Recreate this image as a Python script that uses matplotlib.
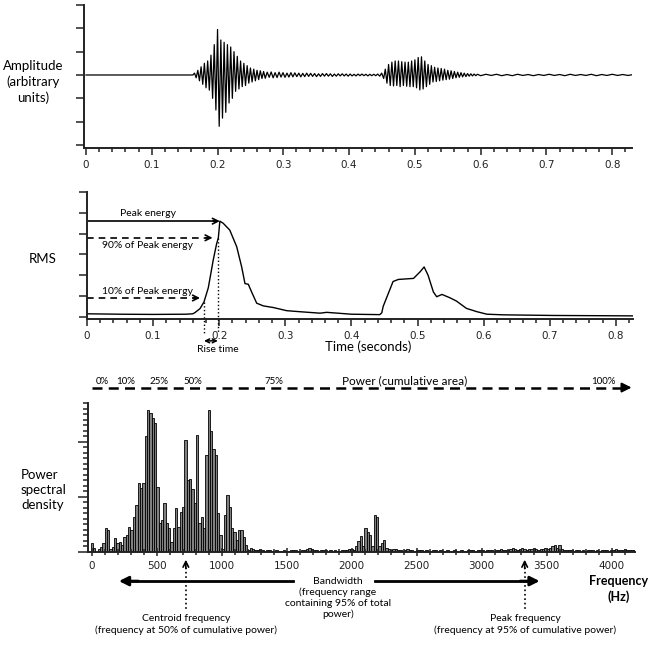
import numpy as np
import matplotlib
matplotlib.use("Agg")
import matplotlib.pyplot as plt
from matplotlib.ticker import MultipleLocator, FuncFormatter

plt.rcParams['font.family'] = ['Lato', 'DejaVu Sans']

# ---- waveform (amplitude, arbitrary units), read stroke by stroke ----
quiet_t = [0.0, 0.1625]
quiet_y = [0.0, 0.0]
burst1_t0, burst1_dt = 0.165, 0.0025
burst1_y = [0.08, -0.12, 0.2, -0.25, 0.35, -0.4, 0.5, -0.55, 0.6, -0.65,
            0.85, -1.0, 1.3, -1.5, 1.95, -2.2, 1.5, -1.85, 1.4, -1.6,
            1.3, -1.2, 1.2, -1.0, 1.0, -0.7, 0.8, -0.6, 0.6, -0.5,
            0.5, -0.45, 0.4, -0.35, 0.3, -0.3, 0.25, -0.25, 0.2, -0.2,
            0.18, -0.15, 0.15]
noise_t0, noise_dt = 0.2725, 0.003
noise_y = [-0.14, 0.12, -0.1, 0.13, -0.12, 0.1, -0.11, 0.12, -0.09, 0.1,
           -0.1, 0.08, -0.09, 0.1, -0.08, 0.09, -0.07, 0.08, -0.08, 0.07,
           -0.07, 0.08, -0.06, 0.07, -0.06, 0.06, -0.07, 0.05, -0.06, 0.06,
           -0.05, 0.06, -0.05, 0.05, -0.06, 0.04, -0.05, 0.05, -0.04, 0.05,
           -0.04, 0.04, -0.05, 0.04, -0.04, 0.03, -0.04, 0.04, -0.03, 0.04,
           -0.03, 0.03, -0.04, 0.03, -0.03, 0.03, -0.03, 0.04, -0.05, 0.08]
burst2_t0, burst2_dt = 0.4525, 0.0025
burst2_y = [-0.15, 0.25, -0.35, 0.45, -0.45, 0.55, -0.47, 0.6, -0.45, 0.6,
            -0.5, 0.57, -0.45, 0.55, -0.48, 0.55, -0.5, 0.6, -0.5, 0.65,
            -0.55, 0.75, -0.64, 0.78, -0.6, 0.6, -0.5, 0.45, -0.4, 0.4,
            -0.3, 0.33, -0.28, 0.3, -0.25, 0.28, -0.22, 0.25, -0.2, 0.2,
            -0.18, 0.18, -0.15, 0.15, -0.12, 0.12, -0.1, 0.1, -0.08, 0.08,
            -0.07, 0.06, -0.05, 0.05, -0.04, 0.04, -0.03, 0.03]
tail_t0, tail_dt = 0.6, 0.008
tail_y = [-0.03, 0.03, -0.02, 0.03, -0.03, 0.02, -0.03, 0.03, -0.02, 0.02,
          -0.03, 0.02, -0.02, 0.03, -0.02, 0.02, -0.03, 0.03, -0.02, 0.02,
          -0.02, 0.03, -0.03, 0.02, -0.02, 0.03, -0.02, 0.02, -0.02, 0.02]

# ---- RMS envelope ----
rms_t = [0, 0.05, 0.1, 0.15, 0.16, 0.163, 0.171, 0.177, 0.1835, 0.191,
         0.196, 0.1987, 0.201, 0.206, 0.216, 0.2265, 0.234, 0.239, 0.244, 0.249,
         0.2567, 0.2667, 0.282, 0.302, 0.322, 0.3525, 0.3626, 0.4, 0.443, 0.446,
         0.448, 0.456, 0.463, 0.471, 0.494, 0.504, 0.51, 0.516, 0.524, 0.529,
         0.537, 0.549, 0.559, 0.574, 0.59, 0.605, 0.63, 0.705, 0.826]
rms_v = [0.15, 0.13, 0.12, 0.13, 0.15, 0.2, 0.4, 0.72, 1.4, 2.74,
         3.5, 3.8, 4.6, 4.5, 4.17, 3.37, 2.4, 1.6, 1.57, 1.2,
         0.66, 0.53, 0.45, 0.3, 0.25, 0.18, 0.22, 0.13, 0.11, 0.2,
         0.5, 1.14, 1.7, 1.8, 1.85, 2.17, 2.4, 2.0, 1.2, 0.97,
         1.08, 0.92, 0.76, 0.41, 0.25, 0.13, 0.1, 0.07, 0.05]
peak_energy = 4.6
energy_90 = 3.8
energy_10 = 0.72
t_10 = 0.177
t_90 = 0.198
t_peak = 0.201

# ---- power spectral density, 18 Hz bins ----
bin_hz = 18
psd = [0.16, 0.07, 0.0, 0.05, 0.09, 0.16, 0.43, 0.4, 0.05, 0.09,
       0.25, 0.16, 0.18, 0.12, 0.27, 0.3, 0.45, 0.4, 0.64, 0.85,
       1.25, 1.16, 1.25, 2.1, 2.58, 2.52, 2.43, 2.33, 1.18, 0.52,
       0.58, 0.88, 0.52, 0.43, 0.18, 0.43, 0.79, 0.45, 0.73, 0.82,
       2.03, 1.3, 1.33, 1.15, 0.88, 2.12, 0.52, 0.64, 0.43, 1.76,
       2.58, 2.2, 1.87, 1.76, 0.7, 0.3, 0.05, 0.67, 1.03, 0.82,
       0.43, 0.36, 0.21, 0.4, 0.4, 0.27, 0.12, 0.04,
       0.08, 0.06, 0.04, 0.03, 0.05, 0.03, 0.02, 0.03, 0.04, 0.02,
       0.02, 0.03, 0.02, 0.02, 0.03, 0.02, 0.02, 0.03, 0.04, 0.03,
       0.02, 0.02, 0.03, 0.04, 0.06, 0.07, 0.06, 0.04, 0.03, 0.02,
       0.03, 0.04, 0.03, 0.02, 0.03, 0.02, 0.03, 0.02, 0.02, 0.03,
       0.04, 0.03, 0.05, 0.06, 0.04, 0.1, 0.2, 0.29, 0.1, 0.43,
       0.36, 0.3, 0.1, 0.67, 0.64, 0.1, 0.17, 0.22, 0.07, 0.05,
       0.04, 0.05, 0.06, 0.04, 0.03, 0.02, 0.03, 0.05, 0.04, 0.03,
       0.02, 0.03, 0.04, 0.03, 0.02, 0.03, 0.02, 0.02, 0.04, 0.03,
       0.02, 0.03, 0.02, 0.02, 0.03, 0.02, 0.02, 0.03, 0.02, 0.02,
       0.03, 0.02, 0.02, 0.03, 0.04, 0.03, 0.02, 0.03, 0.04, 0.03,
       0.02, 0.03, 0.04, 0.03, 0.02, 0.03, 0.04, 0.05, 0.04, 0.03,
       0.04, 0.06, 0.08, 0.05, 0.04, 0.05, 0.07, 0.05, 0.04, 0.06,
       0.05, 0.07, 0.06, 0.04, 0.05, 0.06, 0.08, 0.05, 0.07, 0.1,
       0.12, 0.08, 0.13, 0.06, 0.04, 0.03, 0.04, 0.03, 0.02, 0.03,
       0.03, 0.02, 0.03, 0.02, 0.03, 0.04, 0.03, 0.02, 0.03, 0.02,
       0.03, 0.04, 0.03, 0.02, 0.03, 0.04, 0.05, 0.04, 0.03, 0.04,
       0.05, 0.04, 0.03, 0.04, 0.03]
pct_labels = ['0%', '10%', '25%', '50%', '75%', '100%']
pct_hz = [77, 262, 515, 777, 1400, 3938]
centroid_hz = 723
peak_freq_hz = 3331
band_lo_hz, band_hi_hz = 208, 3446

W, H = 653, 646
fig = plt.figure(figsize=(W / 100, H / 100), dpi=100)


def box(l, t, r, b):
    return [l / W, 1 - b / H, (r - l) / W, (b - t) / H]


def style(ax):
    for s in ['top', 'right']:
        ax.spines[s].set_visible(False)
    for s in ['left', 'bottom']:
        ax.spines[s].set_linewidth(1.4)
        ax.spines[s].set_color('#222222')
    ax.tick_params(which='both', colors='#222222', labelsize=7.5, width=1.1)
    for lab in ax.get_xticklabels():
        lab.set_fontfamily('DejaVu Sans')


def tfmt(v, pos):
    return '0' if abs(v) < 1e-9 else f'{v:.1f}'


def head(ax, tip, frm, style_='->', ms=10, lw=1.2):
    ax.annotate('', xy=tip, xytext=frm, annotation_clip=False,
                arrowprops=dict(arrowstyle=style_, lw=lw, color='black',
                                mutation_scale=ms, shrinkA=0, shrinkB=0))


# ---- top: waveform ----
ax1 = fig.add_axes(box(84, 5, 632, 148))
wt = np.concatenate([quiet_t,
                     burst1_t0 + burst1_dt * np.arange(len(burst1_y)),
                     noise_t0 + noise_dt * np.arange(len(noise_y)),
                     burst2_t0 + burst2_dt * np.arange(len(burst2_y)),
                     tail_t0 + tail_dt * np.arange(len(tail_y))])
wy = np.concatenate([quiet_y, burst1_y, noise_y, burst2_y, tail_y])
ax1.plot(wt, wy, color='black', lw=0.9)
ax1.set_xlim(-0.003, 0.83)
ax1.set_ylim(-3.13, 3.0)
ax1.yaxis.set_major_locator(MultipleLocator(1))
ax1.set_yticklabels([])
ax1.xaxis.set_major_locator(MultipleLocator(0.1))
ax1.xaxis.set_minor_locator(MultipleLocator(0.02))
ax1.xaxis.set_major_formatter(FuncFormatter(tfmt))
ax1.tick_params(axis='y', length=6)
ax1.tick_params(axis='x', which='major', length=5)
ax1.tick_params(axis='x', which='minor', length=3)
style(ax1)

# ---- middle: RMS ----
ax2 = fig.add_axes(box(87, 192, 633, 319))
ax2.plot(rms_t, rms_v, color='black', lw=1.0)
ax2.set_xlim(0, 0.826)
ax2.set_ylim(-0.1, 6.0)
ax2.yaxis.set_major_locator(MultipleLocator(1))
ax2.set_yticklabels([])
ax2.xaxis.set_major_locator(MultipleLocator(0.1))
ax2.xaxis.set_minor_locator(MultipleLocator(0.02))
ax2.xaxis.set_major_formatter(FuncFormatter(tfmt))
ax2.tick_params(axis='y', length=6)
ax2.tick_params(axis='x', which='major', length=5)
ax2.tick_params(axis='x', which='minor', length=3)
style(ax2)

# peak energy (solid)
ax2.plot([0, t_peak - 0.004], [peak_energy, peak_energy], color='black', lw=1.2)
head(ax2, (t_peak, peak_energy), (t_peak - 0.01, peak_energy))
ax2.text(0.092, peak_energy + 0.38, 'Peak energy', ha='center', va='center', fontsize=7.5)
# 90% (dashed)
ax2.plot([0, t_90 - 0.012], [energy_90, energy_90], color='black', lw=1.2, ls=(0, (4, 3)))
head(ax2, (t_90 - 0.008, energy_90), (t_90 - 0.018, energy_90))
ax2.text(0.092, energy_90 - 0.38, '90% of Peak energy', ha='center', va='center', fontsize=7.5)
# 10% (dashed)
ax2.plot([0, t_10 - 0.01], [energy_10 + 0.19, energy_10 + 0.19], color='black', lw=1.2, ls=(0, (4, 3)))
head(ax2, (t_10 - 0.006, energy_10 + 0.19), (t_10 - 0.016, energy_10 + 0.19))
ax2.text(0.092, energy_10 + 0.5, '10% of Peak energy', ha='center', va='center', fontsize=7.5)
# rise time
ax2.plot([t_10, t_10], [energy_10, -0.77], color='black', lw=1.0, ls=':', clip_on=False)
ax2.plot([t_90, t_90], [energy_90, -0.77], color='black', lw=1.0, ls=':', clip_on=False)
head(ax2, (t_10, -1.15), (t_90, -1.15), style_='<->', ms=7, lw=1.1)
ax2.text(t_90, -1.56, 'Rise time', ha='center', va='center', fontsize=7.5)
ax2.text(0.425, -1.45, 'Time (seconds)', ha='center', va='center', fontsize=9.5)

# ---- bottom: power spectral density ----
ax3 = fig.add_axes(box(88, 403, 635, 552))
freqs = bin_hz * np.arange(len(psd))
ax3.bar(freqs, psd, width=bin_hz, color='#808080', edgecolor='black', lw=0.6, align='center')
ax3.set_xlim(-30, 4180)
ax3.set_ylim(0, 2.7)
ax3.yaxis.set_major_locator(MultipleLocator(1))
ax3.yaxis.set_minor_locator(MultipleLocator(0.1))
ax3.set_yticklabels([])
ax3.xaxis.set_major_locator(MultipleLocator(500))
ax3.xaxis.set_minor_locator(MultipleLocator(100))
ax3.tick_params(axis='y', which='major', length=7)
ax3.tick_params(axis='y', which='minor', length=3.5)
ax3.tick_params(axis='x', which='major', length=6, direction='inout')
ax3.tick_params(axis='x', which='minor', length=4, direction='inout')
style(ax3)

# cumulative power line
line_y = 2.98
ax3.plot([0, 4100], [line_y, line_y], color='black', lw=1.8, ls=(0, (4, 2.5)), clip_on=False)
head(ax3, (4154, line_y), (4080, line_y), style_='-|>', ms=14, lw=1.5)
for lab, hz in zip(pct_labels, pct_hz):
    ax3.text(hz, line_y + 0.02, lab, ha='center', va='bottom', fontsize=7)
ax3.text(2408, line_y + 0.02, 'Power (cumulative area)', ha='center', va='bottom', fontsize=8.5)

# bandwidth
bw_y = -0.527
ax3.plot([1546, band_lo_hz + 100], [bw_y, bw_y], color='black', lw=2, clip_on=False)
head(ax3, (band_lo_hz, bw_y), (band_lo_hz + 150, bw_y), style_='-|>', ms=14, lw=2)
ax3.plot([2177, band_hi_hz - 100], [bw_y, bw_y], color='black', lw=2, clip_on=False)
head(ax3, (band_hi_hz, bw_y), (band_hi_hz - 150, bw_y), style_='-|>', ms=14, lw=2)
ax3.text(1892, -0.45, 'Bandwidth\n(frequency range\ncontaining 95% of total\npower)',
         ha='center', va='top', fontsize=7.5, linespacing=1.25)

# centroid and peak frequency
for hz, txt in [(centroid_hz, 'Centroid frequency\n(frequency at 50% of cumulative power)'),
                (peak_freq_hz, 'Peak frequency\n(frequency at 95% of cumulative power)')]:
    ax3.plot([hz, hz], [-0.2, -1.05], color='black', lw=1.2, ls=':', clip_on=False)
    head(ax3, (hz, -0.14), (hz, -0.3), ms=10, lw=1.2)
    ax3.text(hz + 5, -1.12, txt, ha='center', va='top', fontsize=7.5, linespacing=1.3)

ax3.text(4054, -0.42, 'Frequency\n(Hz)', ha='center', va='top', fontsize=9,
         fontweight='bold', linespacing=1.3)

# panel labels
fig.text(33 / W, 1 - 82 / H, 'Amplitude\n(arbitrary\nunits)', ha='center', va='center',
         fontsize=9.5, linespacing=1.3)
fig.text(43 / W, 1 - 259 / H, 'RMS', ha='center', va='center', fontsize=9.5)
fig.text(21 / W, 1 - 490 / H, 'Power\nspectral\ndensity', ha='left', va='center',
         fontsize=9.5, linespacing=1.3)

fig.savefig('out.png', dpi=100)
